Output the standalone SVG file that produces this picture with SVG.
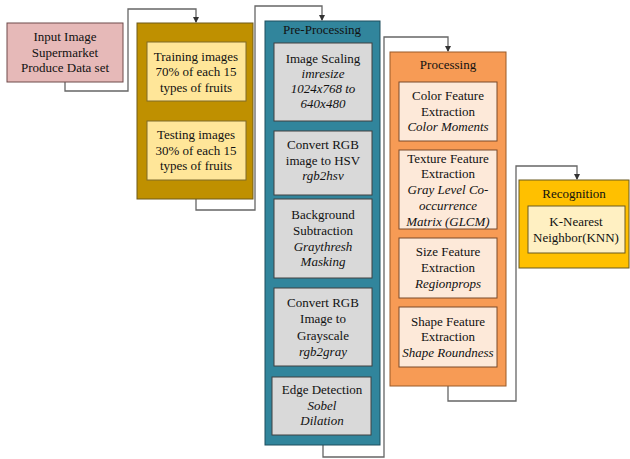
<svg xmlns="http://www.w3.org/2000/svg" width="630" height="459" viewBox="0 0 630 459" font-family="Liberation Serif">
<defs>
<marker id="arr" markerWidth="6" markerHeight="6" refX="5" refY="3" orient="auto" markerUnits="userSpaceOnUse">
<path d="M0,0 L6,3 L0,6 Z" fill="#333"/>
</marker>
<style>
text{font-family:'Liberation Serif','Times New Roman',serif;font-size:13px;fill:#111;text-anchor:middle}
.i{font-style:italic}
.c{fill:none;stroke:#666;stroke-width:1.3}
.gold{fill:#bf9000;stroke:#6e5a1a;stroke-width:1}
.goldin{fill:#ffe699;stroke:#7f6a2a;stroke-width:1}
.teal{fill:#31859c;stroke:#1f4e5e;stroke-width:1}
.gray{fill:#d9d9d9;stroke:#404040;stroke-width:1}
.orng{fill:#f79b55;stroke:#9a5a28;stroke-width:1}
.peach{fill:#fde9d9;stroke:#7a4a2a;stroke-width:1}
.yel{fill:#ffc000;stroke:#6b5a20;stroke-width:1}
.yelin{fill:#fff0c2;stroke:#6b5a20;stroke-width:1}
</style>
</defs>
<rect width="630" height="459" fill="#fff"/>
<g id="connectors">
<path class="c" d="M65,82 V91 H128 V9 H196 V22" marker-end="url(#arr)"/>
<path class="c" d="M196,199 V210 H255 V6 H322 V20" marker-end="url(#arr)"/>
<path class="c" d="M323,445 V457 H384 V37 H448 V51" marker-end="url(#arr)"/>
<path class="c" d="M448,386 V401 H516 V166 H577 V179" marker-end="url(#arr)"/>
</g>
<g id="input">
<rect x="7" y="23" width="116" height="59" fill="#e6b9b8" stroke="#6e4a4a"/>
<text x="65" y="41">Input Image</text>
<text x="65" y="57">Supermarket</text>
<text x="65" y="72">Produce Data set</text>
</g>
<g id="dataset">
<rect class="gold" x="137" y="23" width="116" height="176"/>
<g id="training">
<rect class="goldin" x="147" y="42" width="99" height="59"/>
<text x="196" y="61">Training images</text>
<text x="196" y="76">70% of each 15</text>
<text x="196" y="92">types of fruits</text>
</g>
<g id="testing">
<rect class="goldin" x="147" y="121" width="99" height="59"/>
<text x="196" y="139">Testing images</text>
<text x="196" y="155">30% of each 15</text>
<text x="196" y="170">types of fruits</text>
</g>
</g>
<g id="preprocessing">
<rect class="teal" x="265" y="21" width="115" height="424"/>
<text x="322" y="34">Pre-Processing</text>
<g id="scaling">
<rect class="gray" x="274" y="43" width="98" height="78"/>
<text x="323" y="63">Image Scaling</text>
<text class="i" x="323" y="78">imresize</text>
<text class="i" x="323" y="93">1024x768 to</text>
<text class="i" x="323" y="108">640x480</text>
</g>
<g id="hsv">
<rect class="gray" x="274" y="131" width="98" height="64"/>
<text x="323" y="149">Convert RGB</text>
<text x="323" y="165">image to HSV</text>
<text class="i" x="323" y="180">rgb2hsv</text>
</g>
<g id="background">
<rect class="gray" x="274" y="199" width="98" height="79"/>
<text x="323" y="219">Background</text>
<text x="323" y="235">Subtraction</text>
<text class="i" x="323" y="251">Graythresh</text>
<text class="i" x="323" y="266">Masking</text>
</g>
<g id="grayscale">
<rect class="gray" x="274" y="288" width="98" height="78"/>
<text x="323" y="307">Convert RGB</text>
<text x="323" y="323">Image to</text>
<text x="323" y="340">Grayscale</text>
<text class="i" x="323" y="356">rgb2gray</text>
</g>
<g id="edge">
<rect class="gray" x="272" y="377" width="99" height="58"/>
<text x="322" y="394">Edge Detection</text>
<text class="i" x="322" y="410">Sobel</text>
<text class="i" x="322" y="425">Dilation</text>
</g>
</g>
<g id="processing">
<rect class="orng" x="390" y="52" width="116" height="334"/>
<text x="448" y="69">Processing</text>
<g id="color">
<rect class="peach" x="399" y="82" width="98" height="59"/>
<text x="448" y="100">Color Feature</text>
<text x="448" y="116">Extraction</text>
<text class="i" x="448" y="131">Color Moments</text>
</g>
<g id="texture">
<rect class="peach" x="399" y="150" width="98" height="79"/>
<text x="448" y="163">Texture Feature</text>
<text x="448" y="178">Extraction</text>
<text class="i" x="448" y="194">Gray Level Co-</text>
<text class="i" x="448" y="210">occurrence</text>
<text class="i" x="448" y="226">Matrix (GLCM)</text>
</g>
<g id="size">
<rect class="peach" x="399" y="238" width="98" height="60"/>
<text x="448" y="256">Size Feature</text>
<text x="448" y="272">Extraction</text>
<text class="i" x="448" y="288">Regionprops</text>
</g>
<g id="shape">
<rect class="peach" x="399" y="307" width="98" height="60"/>
<text x="448" y="326">Shape Feature</text>
<text x="448" y="341">Extraction</text>
<text class="i" x="448" y="357">Shape Roundness</text>
</g>
</g>
<g id="recognition">
<rect class="yel" x="519" y="180" width="110" height="88"/>
<text x="574" y="198">Recognition</text>
<g id="knn">
<rect class="yelin" x="528" y="206" width="97" height="47"/>
<text x="576" y="226">K-Nearest</text>
<text x="576" y="242">Neighbor(KNN)</text>
</g>
</g>
</svg>
